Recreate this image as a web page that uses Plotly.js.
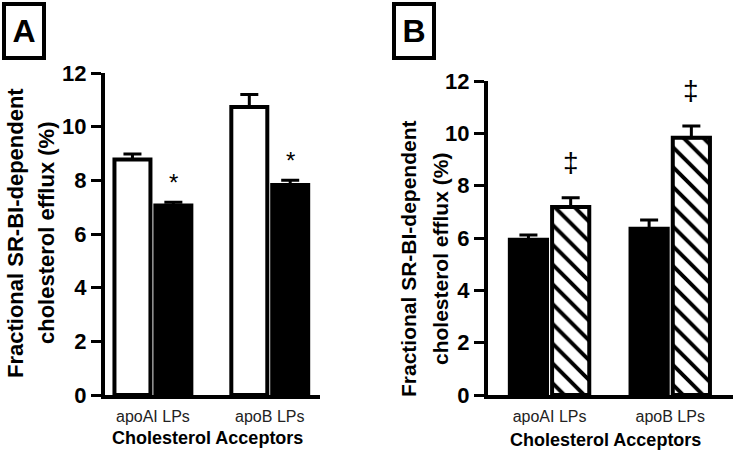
<!DOCTYPE html>
<html>
<head>
<meta charset="utf-8">
<script src="https://cdn.plot.ly/plotly-3.0.1.min.js"></script>
<style>html,body{margin:0;padding:0;background:#fff;}#chart{width:738px;height:451px;}</style>
</head>
<body>
<div id="chart"></div>
<script>
// ---- data ----
const categories = ['apoAI LPs', 'apoB LPs'];
// Panel A
const aOpenVals = [8.78, 10.73];
const aOpenErr = [0.2, 0.47];
const aSolidVals = [7.06, 7.83];
const aSolidErr = [0.12, 0.17];
const aSolidMarks = ['*', '*'];
// Panel B
const bSolidVals = [5.93, 6.35];
const bSolidErr = [0.18, 0.34];
const bHatchVals = [7.18, 9.83];
const bHatchErr = [0.36, 0.45];
const bHatchMarks = ['\u2021', '\u2021'];
const yTicks = [0, 2, 4, 6, 8, 10, 12];
const yTitleLines = ['Fractional SR-BI-dependent', 'cholesterol efflux (%)'];
const xTitle = 'Cholesterol Acceptors';
const panelLabels = ['A', 'B'];

// ---- styling ----
const W = 738, H = 451;
const FONT = 'Liberation Sans, Arial, Helvetica, sans-serif';
const BARGAP = 0.3, BARGROUPGAP = 0.12;
const zeros = n => n.map(() => 0);

function barTrace(name, vals, errs, xa, ya, fill, hatch) {
  const t = {
    type: 'bar', name: name, x: categories, y: vals,
    xaxis: xa, yaxis: ya,
    marker: {color: fill, line: {color: 'black', width: 4}},
    error_y: {type: 'data', symmetric: false, array: errs, arrayminus: zeros(errs),
              color: 'black', thickness: 3, width: 9},
    showlegend: false, hoverinfo: 'skip'
  };
  if (hatch) {
    t.marker.pattern = {shape: '\\', fgcolor: 'black', bgcolor: 'white', size: 14, solidity: 0.28};
  }
  return t;
}

const data = [
  barTrace('Open', aOpenVals, aOpenErr, 'x', 'y', 'white', false),
  barTrace('Solid', aSolidVals, aSolidErr, 'x', 'y', 'black', false),
  barTrace('Solid', bSolidVals, bSolidErr, 'x2', 'y2', 'black', false),
  barTrace('Hatched', bHatchVals, bHatchErr, 'x2', 'y2', 'white', true)
];

function yAxis(domain, anchor) {
  return {
    domain: domain, anchor: anchor, range: [0, 12], tickvals: yTicks,
    showgrid: false, zeroline: false, showline: true, linecolor: 'black', linewidth: 4,
    ticks: 'outside', ticklen: 10, tickwidth: 3, tickcolor: 'black',
    tickfont: {family: FONT, size: 22, color: 'black', weight: 'bold'}
  };
}
function xAxis(domain, anchor, range) {
  return {
    domain: domain, anchor: anchor, type: 'category', range: range,
    showgrid: false, zeroline: false, showline: true, linecolor: 'black', linewidth: 4,
    ticks: '', ticklabelstandoff: 4, tickfont: {family: FONT, size: 16, color: '#222'}
  };
}

const offset = (1 - BARGAP) / 4; // centre of 2nd bar in a group
const annotations = [];
// significance marks
aSolidMarks.forEach((m, i) => annotations.push({
  xref: 'x', yref: 'y', x: i + offset, y: aSolidVals[i] + aSolidErr[i], text: m,
  showarrow: false, yanchor: 'bottom', yshift: 4,
  font: {family: FONT, size: 24, color: 'black'}
}));
bHatchMarks.forEach((m, i) => annotations.push({
  xref: 'x2', yref: 'y2', x: i + offset, y: bHatchVals[i] + bHatchErr[i], text: m,
  showarrow: false, yanchor: 'bottom', yshift: 18,
  font: {family: FONT, size: 28, color: 'black'}
}));
// y titles
[[15, 46, 233, 22], [408, 440, 259, 21]].forEach(p => {
  yTitleLines.forEach((line, k) => annotations.push({
    xref: 'paper', yref: 'paper', x: p[k] / W, y: 1 - p[2] / H, text: line,
    textangle: -90, showarrow: false, xanchor: 'center', yanchor: 'middle',
    font: {family: FONT, size: p[3], color: 'black', weight: 'bold'}
  }));
});
// x titles
[[207, 438], [605, 440]].forEach(p => annotations.push({
  xref: 'paper', yref: 'paper', x: p[0] / W, y: 1 - p[1] / H, text: xTitle,
  showarrow: false, xanchor: 'center', yanchor: 'middle',
  font: {family: FONT, size: 18, color: 'black', weight: 'bold'}
}));
// panel labels
[[23.5, 30.5], [414, 30.5]].forEach((p, i) => annotations.push({
  xref: 'paper', yref: 'paper', x: p[0] / W, y: 1 - p[1] / H, text: panelLabels[i],
  showarrow: false, xanchor: 'center', yanchor: 'middle',
  width: 36, height: 50, borderpad: 0, borderwidth: 4, bordercolor: 'black', bgcolor: 'white',
  font: {family: FONT, size: 32, color: 'black', weight: 'bold'}
}));

const layout = {
  width: W, height: H, margin: {l: 0, r: 0, t: 0, b: 0},
  paper_bgcolor: 'white', plot_bgcolor: 'rgba(0,0,0,0)',
  barmode: 'group', bargap: BARGAP, bargroupgap: BARGROUPGAP,
  showlegend: false,
  xaxis: xAxis([105 / W, 320 / W], 'y', [-0.41, 1.43]),
  yaxis: yAxis([(H - 395) / H, (H - 73) / H], 'x'),
  xaxis2: xAxis([488 / W, 733 / W], 'y2', [-0.51, 1.52]),
  yaxis2: yAxis([(H - 395) / H, (H - 81) / H], 'x2'),
  annotations: annotations
};

Plotly.newPlot('chart', data, layout, {displayModeBar: false, staticPlot: true});
</script>
</body>
</html>
